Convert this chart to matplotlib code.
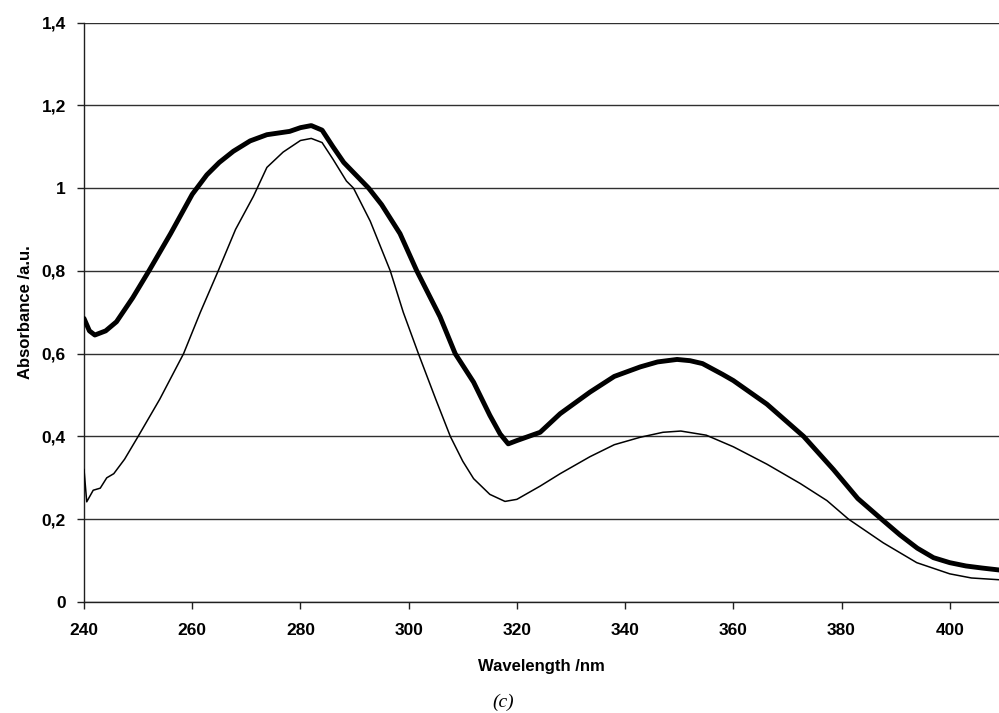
import matplotlib
matplotlib.use('Agg')
import matplotlib.pyplot as plt

# --- Values --- #

# thick trace
wl_thick = [240, 241, 242, 244, 246, 249, 252, 256, 260, 262.7, 265, 267.6,
            270.7, 273.8, 278, 280, 282, 284, 286, 288, 290, 292.6, 295,
            298.4, 301.5, 305.8, 308.6, 312, 315, 316.9, 318.4, 320, 324.3,
            328, 333.5, 338, 342.8, 346, 349.6, 352, 354.3, 358, 360, 366.2,
            373, 378.5, 383, 387.4, 390.8, 394, 397, 400, 403, 406, 410]
abs_thick = [0.685, 0.655, 0.645, 0.655, 0.677, 0.735, 0.80, 0.89, 0.985,
             1.032, 1.062, 1.089, 1.114, 1.129, 1.137, 1.146, 1.151, 1.14,
             1.10, 1.062, 1.035, 1.0, 0.96, 0.89, 0.80, 0.689, 0.60, 0.531,
             0.451, 0.406, 0.382, 0.39, 0.41, 0.455, 0.507, 0.545, 0.568,
             0.58, 0.586, 0.583, 0.576, 0.55, 0.535, 0.478, 0.40, 0.32, 0.25,
             0.20, 0.162, 0.13, 0.107, 0.095, 0.087, 0.082, 0.076]

# thin trace
wl_thin = [240, 240.5, 241.7, 243, 244.2, 245.5, 247.5, 250, 254, 258.4,
           261.5, 264.8, 268, 271.3, 273.8, 276.8, 280, 282, 284, 286, 288.5,
           289.8, 292.9, 296.6, 299, 301.8, 305, 307.7, 310, 312, 315, 317.8,
           320, 324.3, 328, 333.5, 338, 342.8, 347, 350.3, 355, 360, 366.2,
           372.4, 377.3, 381.3, 387.7, 393.9, 400, 404, 410]
abs_thin = [0.32, 0.242, 0.27, 0.275, 0.30, 0.31, 0.345, 0.40, 0.49, 0.60,
            0.70, 0.80, 0.90, 0.98, 1.05, 1.087, 1.115, 1.12, 1.11, 1.07,
            1.017, 1.0, 0.92, 0.80, 0.70, 0.60, 0.49, 0.40, 0.34, 0.298, 0.26,
            0.243, 0.248, 0.28, 0.31, 0.351, 0.38, 0.398, 0.41, 0.413, 0.403,
            0.375, 0.333, 0.286, 0.245, 0.20, 0.143, 0.095, 0.068, 0.058,
            0.053]

xticks = [240, 260, 280, 300, 320, 340, 360, 380, 400]
yticks = [0, 0.2, 0.4, 0.6, 0.8, 1.0, 1.2, 1.4]
ytick_labels = ['0', '0,2', '0,4', '0,6', '0,8', '1', '1,2', '1,4']

# --- Figure --- #

plt.rcParams['font.family'] = ['Liberation Sans', 'DejaVu Sans']

fig = plt.figure(figsize=(9.99, 7.13), dpi=100)
ax = fig.add_axes([0.0841, 0.1557, 0.9159, 0.8127])

ax.plot(wl_thick, abs_thick, color='black', lw=3.5, solid_capstyle='round',
        solid_joinstyle='round', zorder=3)
ax.plot(wl_thin, abs_thin, color='black', lw=1.1, solid_joinstyle='round',
        zorder=3)

ax.set_xlim(240, 409.1)
ax.set_ylim(0, 1.4)
ax.set_xticks(xticks)
ax.set_yticks(yticks)
ax.set_yticklabels(ytick_labels)

ax.grid(axis='y', color='#303030', lw=1.0)
ax.set_axisbelow(True)
for side in ['top', 'right']:
    ax.spines[side].set_visible(False)
for side in ['left', 'bottom']:
    ax.spines[side].set_color('#202020')
    ax.spines[side].set_linewidth(1.0)

ax.tick_params(axis='both', direction='out', length=5, width=1,
               labelsize=12.5, color='#202020')
ax.tick_params(axis='x', pad=10)
ax.tick_params(axis='y', pad=8)
for lab in ax.get_xticklabels() + ax.get_yticklabels():
    lab.set_fontweight('bold')

ax.set_xlabel('Wavelength /nm', fontsize=12, fontweight='bold', labelpad=15)
ax.set_ylabel('Absorbance /a.u.', fontsize=12, fontweight='bold', labelpad=6)

fig.text(0.5035, 0.003, '(c)', fontsize=14, style='italic',
         family=['Liberation Serif', 'DejaVu Serif'], ha='center', va='bottom')

fig.savefig('out.png', dpi=100)
